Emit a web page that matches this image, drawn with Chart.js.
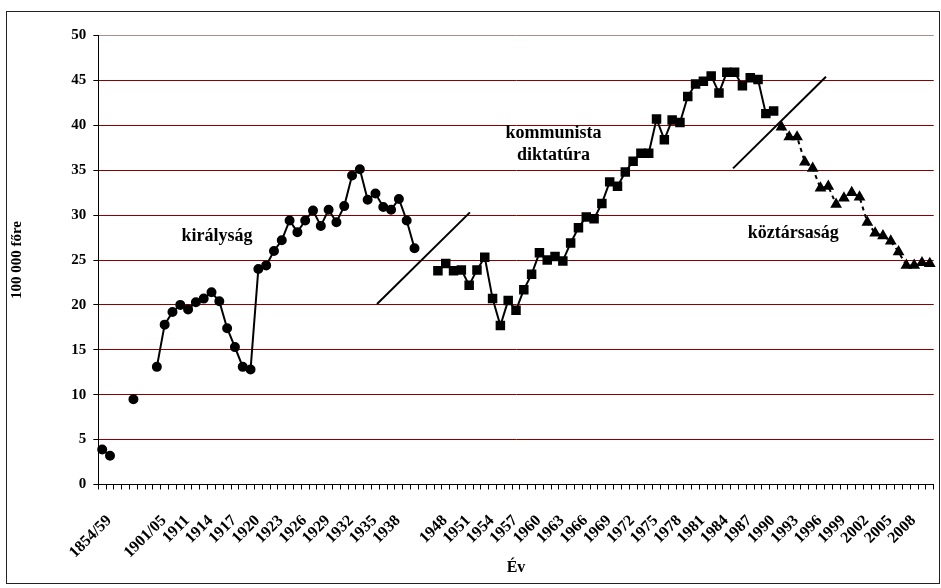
<!DOCTYPE html>
<html>
<head>
<meta charset="utf-8">
<script src="https://cdn.jsdelivr.net/npm/chart.js@4.4.1/dist/chart.umd.min.js"></script>
<style>
  html, body { margin: 0; padding: 0; background: #fff; }
</style>
</head>
<body>
<canvas id="suicide-chart" width="941" height="588"></canvas>
<script>
// categories: a few multi-year periods, then single years (some war years merged)
const years = ['1854/59', '1860/64', '1865/69', '1870/74', '1875/80', '1881/90', '1891/1900',
  '1901/05', '1906/09', '1910'];
for (let y = 1911; y <= 1941; y++) years.push(String(y));
years.push('1942/45', '1946/47');
for (let y = 1948; y <= 2011; y++) years.push(String(y));

// tick labels visible on the x axis
const shownTicks = ['1854/59', '1901/05', '1911', '1914', '1917', '1920', '1923', '1926', '1929',
  '1932', '1935', '1938', '1948', '1951', '1954', '1957', '1960', '1963', '1966', '1969', '1972',
  '1975', '1978', '1981', '1984', '1987', '1990', '1993', '1996', '1999', '2002', '2005', '2008'];

const yTicks = [0, 5, 10, 15, 20, 25, 30, 35, 40, 45, 50];

// királyság: 1854/59 .. 1941
const kingdom = [3.9, 3.2, null, null, 9.5, null, null, 13.1, 17.8, 19.2,
  20.0, 19.5, 20.3, 20.7, 21.4, 20.4, 17.4, 15.3, 13.1, 12.8,
  24.0, 24.4, 26.0, 27.2, 29.4, 28.1, 29.4, 30.5, 28.8, 30.6,
  29.2, 31.0, 34.4, 35.1, 31.7, 32.4, 30.9, 30.6, 31.8, 29.4, 26.3];

// kommunista diktatúra: 1948 .. 1989
const communist = [23.8, 24.6, 23.8, 23.9, 22.2, 23.9, 25.3, 20.7, 17.7, 20.5,
  19.4, 21.7, 23.4, 25.8, 25.0, 25.4, 24.9, 26.9, 28.6, 29.8,
  29.6, 31.3, 33.7, 33.2, 34.8, 36.0, 36.9, 36.9, 40.7, 38.4,
  40.6, 40.3, 43.2, 44.6, 44.9, 45.5, 43.6, 45.9, 45.9, 44.4,
  45.3, 45.1, 41.3, 41.6];

// köztársaság: 1990 .. 2011
const republic = [39.8, 38.7, 38.7, 35.9, 35.2, 33.0, 33.2, 31.2, 31.9, 32.5,
  32.0, 29.2, 28.0, 27.7, 27.1, 25.9, 24.4, 24.4, 24.7, 24.6];

// the two slanted divider strokes, [category position, value]
const dividerOne = [[35.2, 20.1], [47.1, 30.3]];
const dividerTwo = [[80.8, 35.2], [92.7, 45.4]];

// era captions, [category position, value]
const eraLabels = [
  { text: 'királyság', pos: [14.7, 27.6] },
  { text: 'kommunista', pos: [57.8, 39.1] },
  { text: 'diktatúra', pos: [57.8, 36.6] },
  { text: 'köztársaság', pos: [88.5, 28.0] }
];

const FONT = "'Liberation Serif', 'Times New Roman', serif";

function placeAt(values, start) {
  const out = new Array(years.length).fill(null);
  values.forEach((v, i) => { out[start + i] = v; });
  return out;
}

function toPoints(pairs) {
  return pairs.map(p => ({ x: p[0], y: p[1] }));
}

const seriesStyle = {
  borderColor: '#000',
  backgroundColor: '#000',
  pointBorderColor: '#000',
  pointBackgroundColor: '#000',
  borderWidth: 2,
  tension: 0,
  spanGaps: false
};

const frame = {
  id: 'frame',
  beforeDraw(chart) {
    const ctx = chart.ctx;
    ctx.save();
    ctx.fillStyle = '#fff';
    ctx.fillRect(0, 0, chart.width, chart.height);
    ctx.restore();
  },
  afterDraw(chart) {
    const ctx = chart.ctx;
    ctx.save();
    ctx.strokeStyle = '#222';
    ctx.lineWidth = 1;
    ctx.strokeRect(6.5, 11.5, 933, 572);
    ctx.restore();
  }
};

const eraText = {
  id: 'eraText',
  afterDatasetsDraw(chart) {
    const { ctx, scales } = chart;
    ctx.save();
    ctx.font = 'bold 18px ' + FONT;
    ctx.fillStyle = '#000';
    ctx.textAlign = 'center';
    ctx.textBaseline = 'middle';
    eraLabels.forEach(l => {
      ctx.fillText(l.text, scales.xl.getPixelForValue(l.pos[0]), scales.y.getPixelForValue(l.pos[1]));
    });
    ctx.restore();
  }
};

new Chart(document.getElementById('suicide-chart'), {
  type: 'line',
  data: {
    labels: years,
    datasets: [
      Object.assign({ label: 'királyság', data: placeAt(kingdom, 0), pointStyle: 'circle', pointRadius: 4 }, seriesStyle),
      Object.assign({ label: 'kommunista diktatúra', data: placeAt(communist, 43), pointStyle: 'rect', pointRadius: 5.3 }, seriesStyle),
      Object.assign({ label: 'köztársaság', data: placeAt(republic, 87), pointStyle: 'triangle', pointRadius: 4.8, borderDash: [4, 4] }, seriesStyle),
      { data: toPoints(dividerOne), xAxisID: 'xl', borderColor: '#000', borderWidth: 2, pointRadius: 0 },
      { data: toPoints(dividerTwo), xAxisID: 'xl', borderColor: '#000', borderWidth: 2, pointRadius: 0 }
    ]
  },
  options: {
    responsive: false,
    animation: false,
    layout: { padding: { left: 0, top: 35.5, right: 1.5, bottom: 0 } },
    plugins: {
      legend: { display: false },
      tooltip: { enabled: false }
    },
    scales: {
      x: {
        type: 'category',
        offset: true,
        grid: { offset: true, drawOnChartArea: false, color: '#000', tickLength: 5 },
        border: { color: '#000', width: 1 },
        ticks: {
          autoSkip: false,
          minRotation: 45,
          maxRotation: 45,
          padding: 22,
          labelOffset: 7,
          color: '#000',
          font: { family: FONT, size: 16, weight: 'bold' },
          callback: (v, i) => (shownTicks.includes(years[i]) ? years[i] : '')
        },
        title: {
          display: true,
          text: 'Év',
          color: '#000',
          font: { family: FONT, size: 16, weight: 'bold' },
          padding: { top: 0, bottom: 11 }
        },
        afterFit(s) {
          s.height = 103.5;
          s.paddingLeft = 0;
          s.paddingRight = 0;
        }
      },
      xl: { type: 'linear', display: false, min: -0.5, max: years.length - 0.5 },
      y: {
        min: 0,
        max: 50,
        afterBuildTicks(s) { s.ticks = yTicks.map(v => ({ value: v })); },
        grid: {
          color: c => (c.tick && c.tick.value === 50 ? '#a89090' : '#8b0000'),
          tickColor: '#000',
          tickLength: 5
        },
        border: { color: '#000', width: 1 },
        ticks: {
          padding: 7,
          color: '#000',
          font: { family: FONT, size: 15, weight: 'bold' }
        },
        title: {
          display: true,
          text: '100 000 főre',
          color: '#000',
          font: { family: FONT, size: 15, weight: 'bold' },
          padding: { top: 8, bottom: 0 }
        },
        afterFit(s) { s.width = 98.3; }
      }
    }
  },
  plugins: [frame, eraText]
});
</script>
</body>
</html>
